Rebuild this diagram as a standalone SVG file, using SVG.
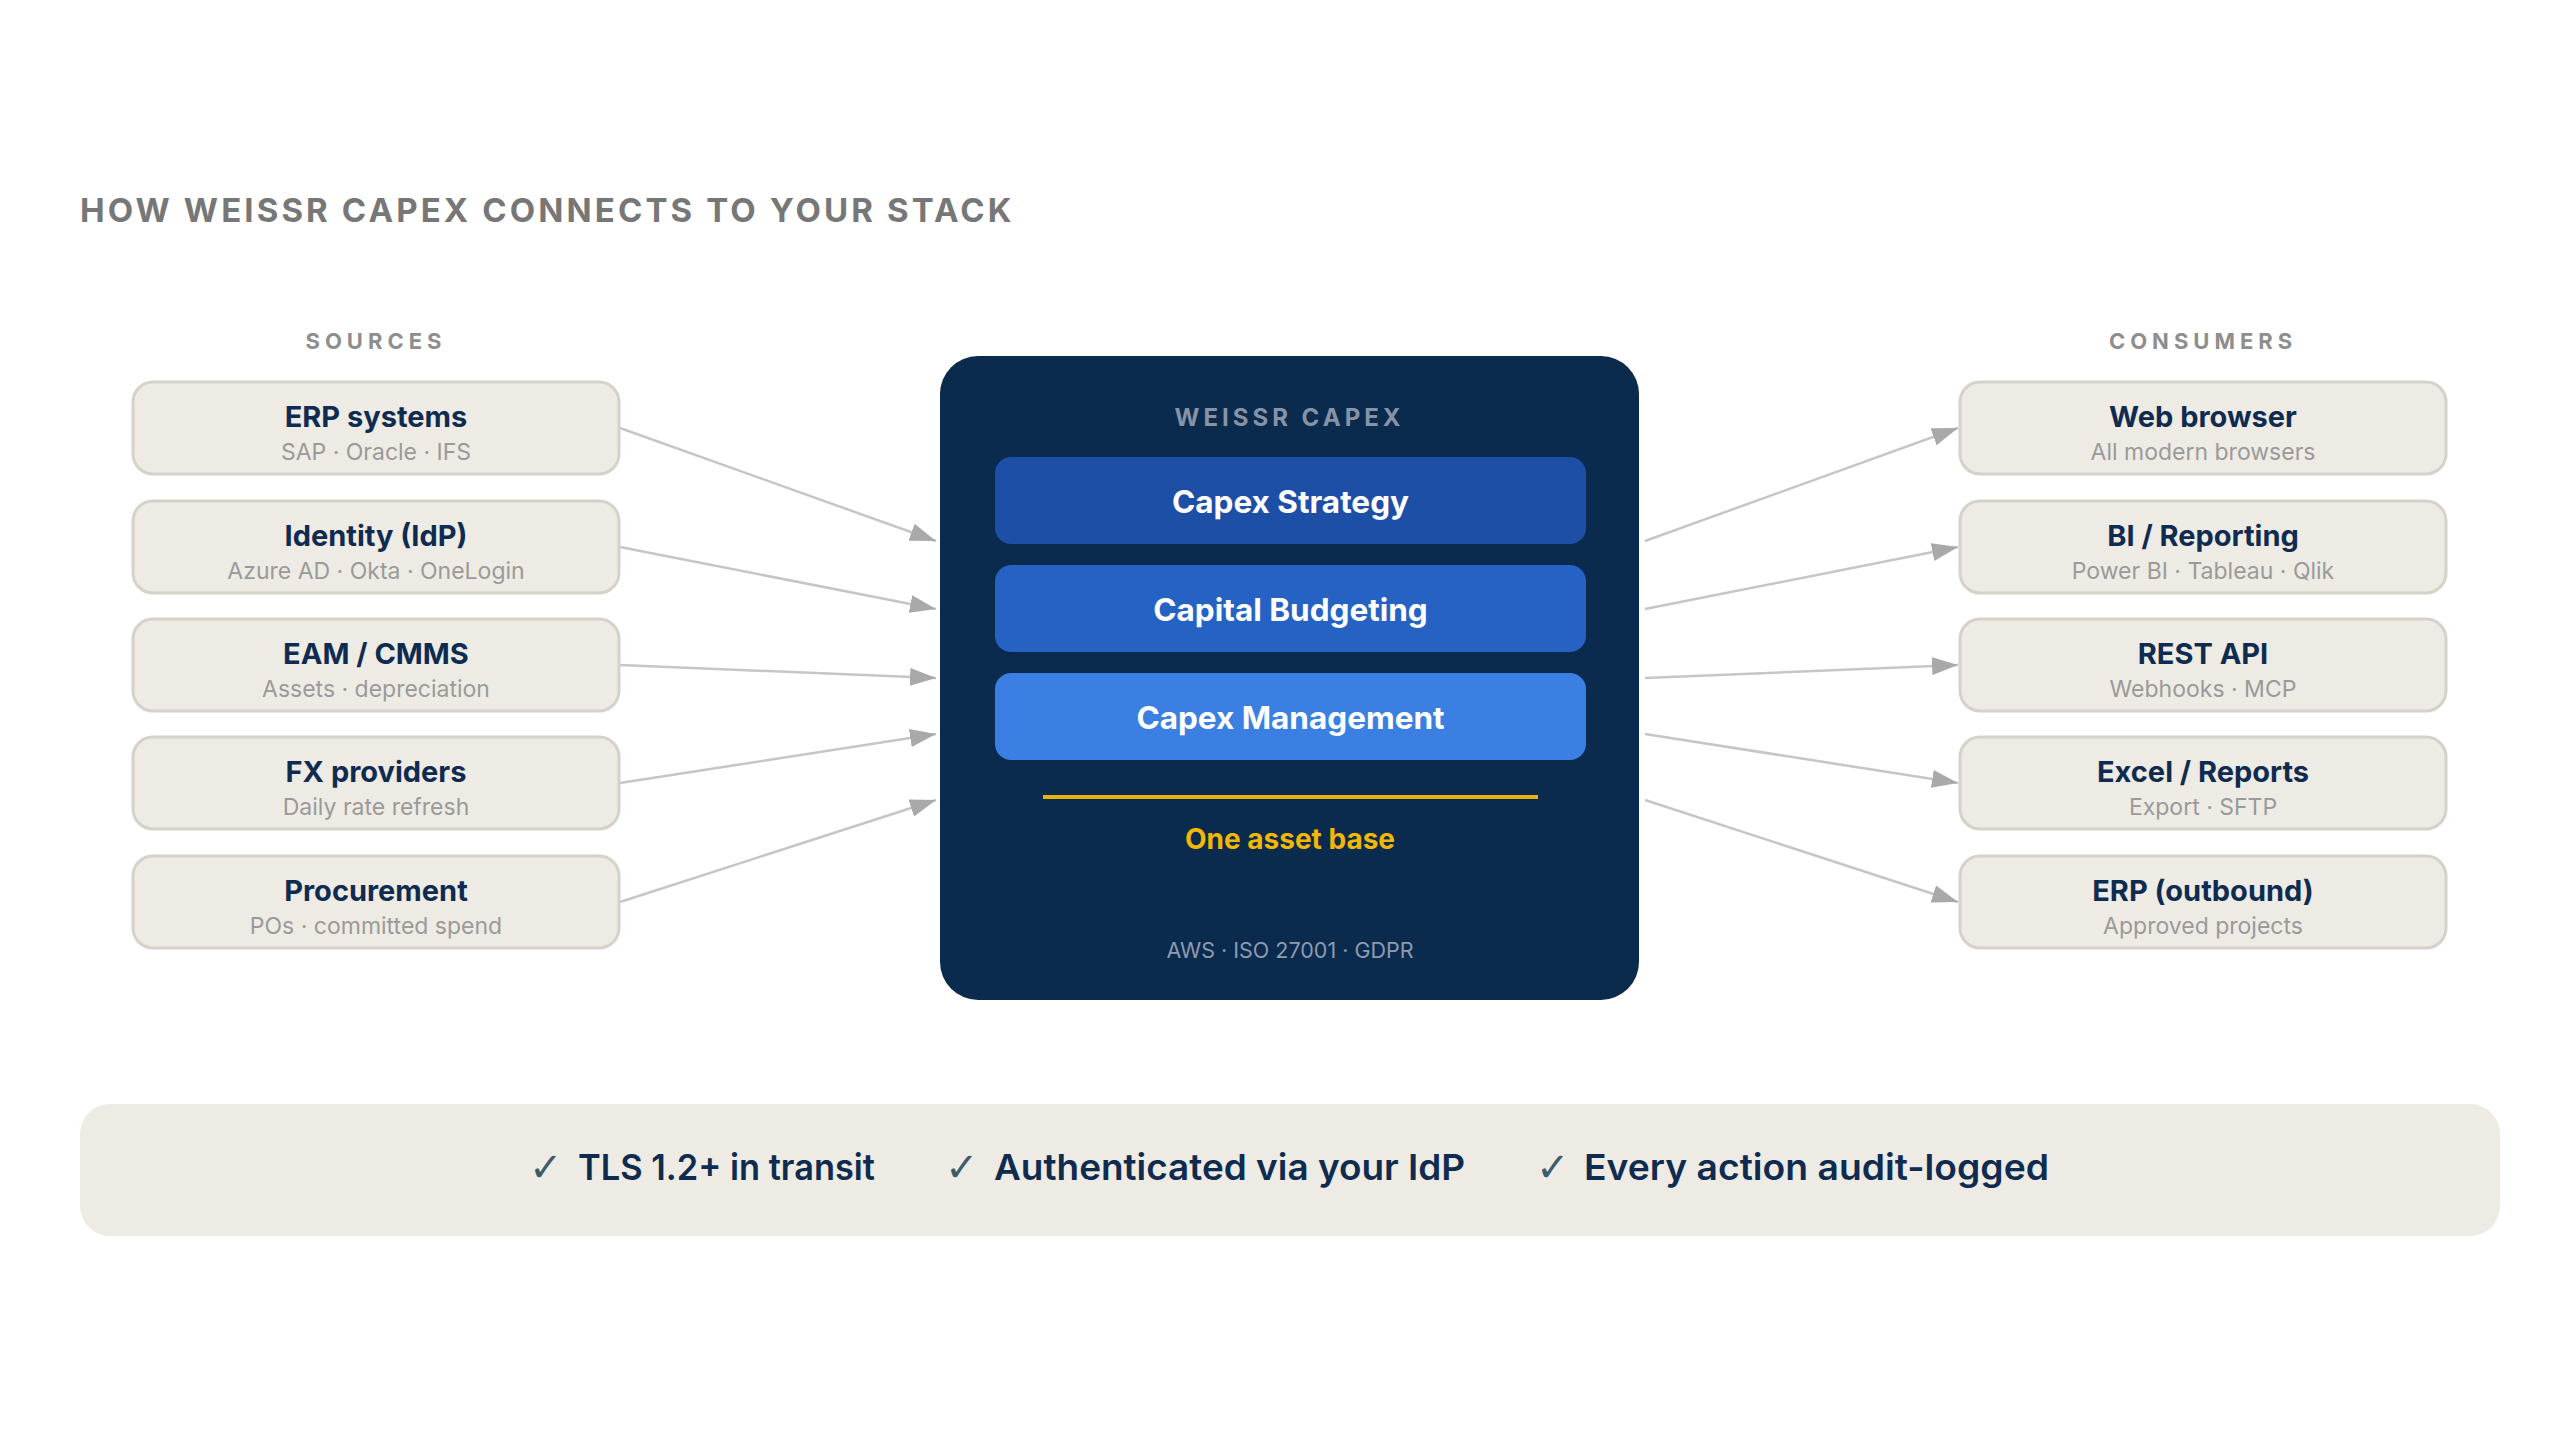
<svg xmlns="http://www.w3.org/2000/svg" width="2560" height="1440" viewBox="0 0 2560 1440">
<style>
text{font-family:Inter,"Open Sans","Liberation Sans",sans-serif}
.h{font-size:33px;font-weight:700;fill:#777777;letter-spacing:3.4px}
.sec{font-size:22px;font-weight:700;fill:#8e8e8e;letter-spacing:5px;text-anchor:middle}
.box{fill:#eeebe4;stroke:#d6d2ca;stroke-width:3}
.t{font-size:29px;font-weight:700;fill:#0f2b50;text-anchor:middle}
.s{font-size:23px;font-weight:400;fill:#9a9a9a;text-anchor:middle}
.bar{font-size:31.5px;font-weight:700;fill:#ffffff;text-anchor:middle}
.conn{stroke:#c6c6c6;stroke-width:2.5;fill:none;marker-end:url(#ah)}
.foot{font-size:36px;font-weight:600;fill:#0f2b50}
.ck{fill:#3d5c6b;font-family:"DejaVu Sans",sans-serif;font-weight:400;font-size:40px}
</style>
<defs>
<marker id="ah" viewBox="0 0 26 18" refX="26" refY="9" markerWidth="26" markerHeight="18" markerUnits="userSpaceOnUse" orient="auto">
<path d="M0,0 L26,9 L0,18 Z" fill="#a9a9a9"/>
</marker>
</defs>
<rect x="0" y="0" width="2560" height="1440" fill="#ffffff"/>
<text class="h" x="80" y="222" textLength="935" lengthAdjust="spacing">HOW WEISSR CAPEX CONNECTS TO YOUR STACK</text>
<text class="sec" x="376" y="349">SOURCES</text>
<text class="sec" x="2203" y="349">CONSUMERS</text>

<g id="connectors">
<line class="conn" x1="620" y1="428" x2="936" y2="541"/>
<line class="conn" x1="620" y1="547" x2="936" y2="609"/>
<line class="conn" x1="620" y1="665" x2="936" y2="678"/>
<line class="conn" x1="620" y1="783" x2="936" y2="734"/>
<line class="conn" x1="620" y1="902" x2="936" y2="800"/>
<line class="conn" x1="1645" y1="541" x2="1958" y2="428"/>
<line class="conn" x1="1645" y1="609" x2="1958" y2="547"/>
<line class="conn" x1="1645" y1="678" x2="1958" y2="665"/>
<line class="conn" x1="1645" y1="734" x2="1958" y2="783"/>
<line class="conn" x1="1645" y1="800" x2="1958" y2="902"/>
</g>

<g id="src-erp"><rect class="box" x="133" y="382" width="486" height="92" rx="20"/><text class="t" x="376" y="427">ERP systems</text><text class="s" x="376" y="460">SAP · Oracle · IFS</text></g>
<g id="src-idp"><rect class="box" x="133" y="501" width="486" height="92" rx="20"/><text class="t" x="376" y="546">Identity (IdP)</text><text class="s" x="376" y="579">Azure AD · Okta · OneLogin</text></g>
<g id="src-eam"><rect class="box" x="133" y="619" width="486" height="92" rx="20"/><text class="t" x="376" y="664">EAM / CMMS</text><text class="s" x="376" y="697">Assets · depreciation</text></g>
<g id="src-fx"><rect class="box" x="133" y="737" width="486" height="92" rx="20"/><text class="t" x="376" y="782">FX providers</text><text class="s" x="376" y="815">Daily rate refresh</text></g>
<g id="src-proc"><rect class="box" x="133" y="856" width="486" height="92" rx="20"/><text class="t" x="376" y="901">Procurement</text><text class="s" x="376" y="934">POs · committed spend</text></g>

<g id="core">
<rect x="940" y="356" width="699" height="644" rx="38" fill="#0a2a4e"/>
<text x="1289.5" y="426" text-anchor="middle" style="font-size:24px;font-weight:700;fill:#8793a5;letter-spacing:4px">WEISSR CAPEX</text>
<g id="core-strategy"><rect x="995" y="457" width="591" height="87" rx="16" fill="#1d4fa7"/><text class="bar" x="1290.5" y="513">Capex Strategy</text></g>
<g id="core-budgeting"><rect x="995" y="565" width="591" height="87" rx="16" fill="#2562c4"/><text class="bar" x="1290.5" y="621">Capital Budgeting</text></g>
<g id="core-management"><rect x="995" y="673" width="591" height="87" rx="16" fill="#3a7fe1"/><text class="bar" x="1290.5" y="729">Capex Management</text></g>
<line x1="1043" y1="797" x2="1538" y2="797" stroke="#e8b20f" stroke-width="4"/>
<text x="1290" y="849" text-anchor="middle" style="font-size:28px;font-weight:700;fill:#f2b705">One asset base</text>
<text x="1290" y="958" text-anchor="middle" style="font-size:21.5px;font-weight:400;fill:#8d9bb0">AWS · ISO 27001 · GDPR</text>
</g>

<g id="dst-web"><rect class="box" x="1960" y="382" width="486" height="92" rx="20"/><text class="t" x="2203" y="427">Web browser</text><text class="s" x="2203" y="460">All modern browsers</text></g>
<g id="dst-bi"><rect class="box" x="1960" y="501" width="486" height="92" rx="20"/><text class="t" x="2203" y="546">BI / Reporting</text><text class="s" x="2203" y="579">Power BI · Tableau · Qlik</text></g>
<g id="dst-api"><rect class="box" x="1960" y="619" width="486" height="92" rx="20"/><text class="t" x="2203" y="664">REST API</text><text class="s" x="2203" y="697">Webhooks · MCP</text></g>
<g id="dst-excel"><rect class="box" x="1960" y="737" width="486" height="92" rx="20"/><text class="t" x="2203" y="782">Excel / Reports</text><text class="s" x="2203" y="815">Export · SFTP</text></g>
<g id="dst-erp"><rect class="box" x="1960" y="856" width="486" height="92" rx="20"/><text class="t" x="2203" y="901">ERP (outbound)</text><text class="s" x="2203" y="934">Approved projects</text></g>

<g id="footer">
<rect x="80" y="1104" width="2420" height="132" rx="30" fill="#eeebe4"/>
<text class="foot ck" x="529" y="1181">✓</text><text class="foot" x="578" y="1180" textLength="297" lengthAdjust="spacingAndGlyphs">TLS 1.2+ in transit</text>
<text class="foot ck" x="945" y="1181">✓</text><text class="foot" x="994" y="1180" textLength="471" lengthAdjust="spacingAndGlyphs">Authenticated via your IdP</text>
<text class="foot ck" x="1536" y="1181">✓</text><text class="foot" x="1584" y="1180" textLength="465" lengthAdjust="spacingAndGlyphs">Every action audit-logged</text>
</g>
</svg>
